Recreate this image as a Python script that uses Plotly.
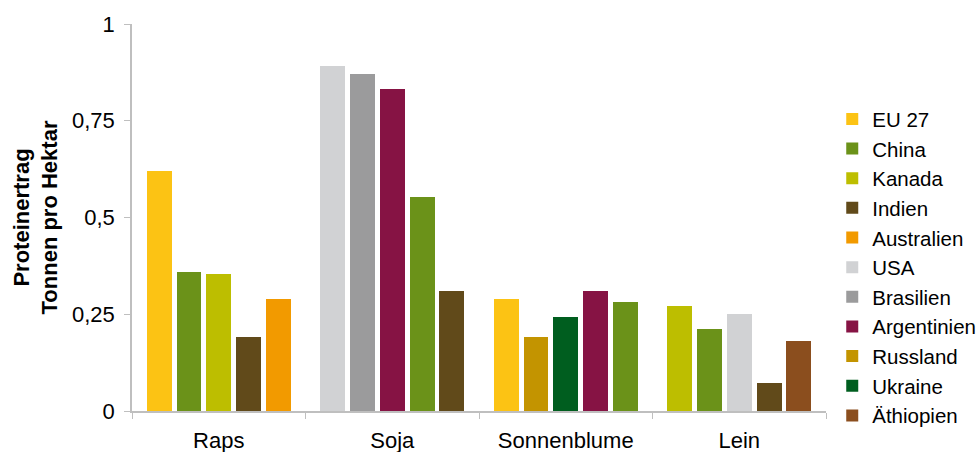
import plotly.graph_objects as go

categories = ["Raps", "Soja", "Sonnenblume", "Lein"]

raps_countries = ["EU 27", "China", "Kanada", "Indien", "Australien"]
raps_values = [0.62, 0.36, 0.353, 0.19, 0.289]

soja_countries = ["USA", "Brasilien", "Argentinien", "China", "Indien"]
soja_values = [0.891, 0.871, 0.832, 0.553, 0.31]

sonnenblume_countries = ["EU 27", "Russland", "Ukraine", "Argentinien", "China"]
sonnenblume_values = [0.289, 0.19, 0.242, 0.31, 0.281]

lein_countries = ["Kanada", "China", "USA", "Indien", "Äthiopien"]
lein_values = [0.271, 0.211, 0.25, 0.072, 0.18]

legend_order = ["EU 27", "China", "Kanada", "Indien", "Australien", "USA",
                "Brasilien", "Argentinien", "Russland", "Ukraine", "Äthiopien"]
colors = {
    "EU 27": "#FCC314",
    "China": "#6B9219",
    "Kanada": "#BDBE00",
    "Indien": "#614A1A",
    "Australien": "#F29A00",
    "USA": "#D1D2D4",
    "Brasilien": "#9B9B9C",
    "Argentinien": "#861344",
    "Russland": "#C39400",
    "Ukraine": "#005E1F",
    "Äthiopien": "#8B4E1E",
}

y_ticks = [0, 0.25, 0.5, 0.75, 1]

groups = [
    (categories[0], raps_countries, raps_values),
    (categories[1], soja_countries, soja_values),
    (categories[2], sonnenblume_countries, sonnenblume_values),
    (categories[3], lein_countries, lein_values),
]

BAR_W = 0.144
PITCH = 0.1715
START = -0.415

FONT = "Liberation Sans, Arial, sans-serif"

fig = go.Figure()
for country in legend_order:
    xs, ys, offs = [], [], []
    for cat, ctry, vals in groups:
        if country in ctry:
            i = ctry.index(country)
            xs.append(cat)
            ys.append(vals[i])
            offs.append(START + i * PITCH)
    fig.add_trace(go.Bar(
        x=xs, y=ys, name=country,
        offset=offs, width=[BAR_W] * len(xs),
        marker=dict(color=colors[country], line=dict(width=0)),
        legendgroup=country,
    ))

fig.update_layout(
    width=980, height=452,
    margin=dict(l=132, r=154, t=24, b=41, autoexpand=False),
    paper_bgcolor="white", plot_bgcolor="white",
    separators=", ",
    font=dict(family=FONT, size=21, color="#000"),
    showlegend=True,
    legend=dict(
        x=1.009, y=0.806, xanchor="left", yanchor="top",
        font=dict(size=20.5, color="#000"),
        tracegroupgap=0,
        itemclick=False,
    ),
    bargap=0,
)
fig.update_xaxes(
    type="category", categoryorder="array", categoryarray=categories,
    range=[-0.5, 3.5],
    showline=True, linecolor="#BFBFBF", linewidth=1.5,
    ticks="outside", tickson="boundaries", ticklen=6, tickcolor="#BFBFBF",
    showgrid=False, zeroline=False,
    tickfont=dict(size=22), ticklabelstandoff=9,
    automargin=False,
)
fig.update_yaxes(
    range=[0, 1], tickvals=y_ticks, tickformat=",.2~f",
    showline=True, linecolor="#BFBFBF", linewidth=1.5,
    ticks="outside", ticklen=6, tickcolor="#BFBFBF",
    showgrid=False, zeroline=False,
    tickfont=dict(size=22), ticklabelstandoff=5,
    title=dict(text="<b>Proteinertrag<br>Tonnen pro Hektar</b>", font=dict(size=22), standoff=8),
    automargin=False,
)

fig.write_html("out.html")
